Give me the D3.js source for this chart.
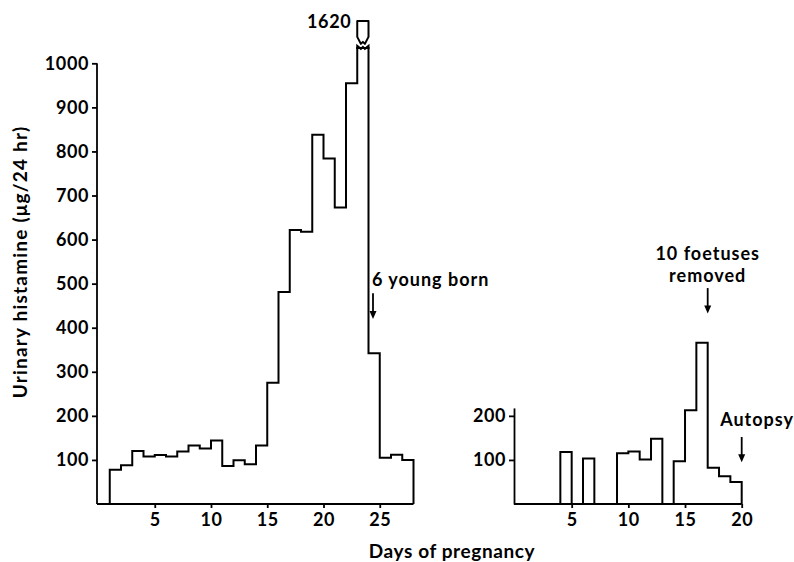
<!doctype html>
<html lang="en">
<head>
  <meta charset="utf-8">
  <title>Urinary histamine in pregnancy</title>
  <style>
    body { margin: 0; background: #fff; }
    text { font-family: Lato, "Open Sans", sans-serif; font-weight: bold; fill: #000; }
  </style>
</head>
<body>
<svg width="794" height="562" id="chart"></svg>

<script src="https://d3js.org/d3.v7.min.js"></script>
<script>
    // first animal: one bin per day, day 1 to day 28
    var leftStart = 1;
    var leftValues = [78, 88, 120, 108, 111, 108, 119, 133, 126, 144, 86, 99, 90, 133,
                      275, 481, 622, 618, 838, 784, 673, 955, 1620, 342, 105, 112, 100];
    var leftTicks = [5, 10, 15, 20, 25];
    var leftYTicks = [100, 200, 300, 400, 500, 600, 700, 800, 900, 1000];

    // second animal: null where nothing was collected
    var rightStart = 1;
    var rightValues = [null, null, null, 118, null, 103, null, null, 115, 119, 101, 148,
                       null, 97, 213, 366, 82, 63, 50];
    var rightTicks = [5, 10, 15, 20];
    var rightYTicks = [100, 200];

    var breakAt = 1035;   // taller bars are cut here

    var svg = d3.select("#chart");
    svg.append("rect").attr("width", 794).attr("height", 562).attr("fill", "#fff");

    var y = d3.scaleLinear().domain([0, 1000]).range([504, 63.3]);
    var xL = d3.scaleLinear().domain([0, 28]).range([98.5, 413.5]);
    var xR = d3.scaleLinear().domain([0, 20]).range([515, 741.7]);
    var yR = d3.scaleLinear().domain([0, 218]).range([y(0), y(218)]);

    var line = d3.line().x(function(d){ return d[0]; }).y(function(d){ return d[1]; });

    // turn runs of consecutive bins into closed step outlines
    function runs(values, start) {
        var out = [], cur = null;
        values.forEach(function(v, i) {
            if (v == null) { cur = null; return; }
            if (!cur) { cur = []; out.push(cur); }
            cur.push({day: start + i, v: v});
        });
        return out;
    }
    function stepPoints(run, x) {
        var pts = [[x(run[0].day), y(0)]];
        run.forEach(function(b) {
            var v = Math.min(b.v, breakAt);
            pts.push([x(b.day), y(v)]);
            pts.push([x(b.day + 1), y(v)]);
        });
        pts.push([x(run[run.length - 1].day + 1), y(0)]);
        return pts;
    }

    function drawHist(values, start, x) {
        runs(values, start).forEach(function(r) {
            svg.append("path")
                .attr("d", line(stepPoints(r, x)))
                .attr("fill", "none").attr("stroke", "#000")
                .attr("stroke-width", 2).attr("stroke-linejoin", "miter");
        });
    }
    drawHist(leftValues, leftStart, xL);
    drawHist(rightValues, rightStart, xR);

    // axes
    function styleAxis(g) {
        g.selectAll("path, line").attr("stroke", "#000").attr("stroke-width", 1.8);
        g.selectAll("text").attr("font-size", 18).attr("font-family", "Lato, sans-serif")
            .attr("font-weight", "bold").attr("fill", "#000").attr("letter-spacing", 0.6);
    }
    var fmt = d3.format("d");
    svg.append("g").attr("transform", "translate(97,0)")
        .call(d3.axisLeft(y).tickValues(leftYTicks).tickFormat(fmt).tickSize(5).tickSizeOuter(0).tickPadding(3))
        .call(styleAxis)
        .call(function(g){ g.select(".domain").attr("d", "M0," + y(0) + "V" + y(1000)); });
    svg.append("g").attr("transform", "translate(0," + y(0) + ")")
        .call(d3.axisBottom(xL).tickValues(leftTicks).tickFormat(fmt).tickSize(4).tickSizeOuter(0).tickPadding(5))
        .call(styleAxis)
        .call(function(g){ g.select(".domain").attr("d", "M97,0H" + xL(28)); });

    svg.append("g").attr("transform", "translate(514,0)")
        .call(d3.axisLeft(yR).tickValues(rightYTicks).tickFormat(fmt).tickSize(5).tickSizeOuter(0).tickPadding(3))
        .call(styleAxis);
    svg.append("g").attr("transform", "translate(0," + y(0) + ")")
        .call(d3.axisBottom(xR).tickValues(rightTicks).tickFormat(fmt).tickSize(4).tickSizeOuter(0).tickPadding(5))
        .call(styleAxis)
        .call(function(g){ g.select(".domain").attr("d", "M514,0H" + xR(20)); });

    // broken bar: value written above the cut
    leftValues.forEach(function(v, i) {
        if (v <= breakAt) return;
        var a = xL(leftStart + i), b = xL(leftStart + i + 1), m = (a + b) / 2;
        var top = y(breakAt);
        svg.append("path")
            .attr("d", "M" + a + "," + (top + 1) + "L" + a + "," + (top - 2) + "L" + (m - 2) + "," + (top + 1)
                + "L" + m + "," + (top - 1) + "L" + (m + 2) + "," + (top + 1) + "L" + b + "," + (top - 2) + "L" + b + "," + (top + 1))
            .attr("fill", "none").attr("stroke", "#000").attr("stroke-width", 2);
        var t2 = top;
        svg.append("path")
            .attr("d", "M" + a + "," + (t2 - 11) + "L" + a + "," + (t2 - 27) + "L" + b + "," + (t2 - 27) + "L" + b + "," + (t2 - 11)
                + "L" + (m + 2) + "," + (t2 - 4) + "L" + m + "," + (t2 - 6) + "L" + (m - 2) + "," + (t2 - 4) + "Z")
            .attr("fill", "none").attr("stroke", "#000").attr("stroke-width", 2).attr("stroke-linejoin", "round");
        svg.append("text").attr("x", a - 6).attr("y", t2 - 20)
            .attr("text-anchor", "end").attr("font-size", 18).attr("letter-spacing", 0.6).text(v);
    });

    // annotations
    function arrow(x, y1, y2) {
        svg.append("line").attr("x1", x).attr("x2", x).attr("y1", y1).attr("y2", y2 - 6)
            .attr("stroke", "#000").attr("stroke-width", 1.8);
        svg.append("path").attr("d", "M" + (x - 3.5) + "," + (y2 - 8) + "L" + (x + 3.5) + "," + (y2 - 8) + "L" + x + "," + y2 + "Z")
            .attr("fill", "#000");
    }
    function label(x, yy, anchor, s) {
        return svg.append("text").attr("x", x).attr("y", yy).attr("text-anchor", anchor)
            .attr("font-size", 18).attr("letter-spacing", 1).text(s);
    }

    label(xL(24.3), y(495), "start", "6 young born");
    arrow(xL(24.4), y(478), y(420));

    label(xR(17), y(553), "middle", "10 foetuses");
    label(xR(17), y(503), "middle", "removed");
    arrow(xR(17), y(490), y(432));

    label(xR(18.1), y(176), "start", "Autopsy");
    arrow(xR(20), y(152), y(95));

    // axis titles
    svg.append("text").attr("x", 452).attr("y", 558).attr("text-anchor", "middle")
        .attr("font-size", 19).attr("letter-spacing", 0.6).text("Days of pregnancy");
    svg.append("text").attr("transform", "translate(27,262) rotate(-90)")
        .attr("text-anchor", "middle").attr("font-size", 19).attr("letter-spacing", 1.2)
        .text("Urinary histamine (\u03bcg/24 hr)");
</script>
</body>
</html>
